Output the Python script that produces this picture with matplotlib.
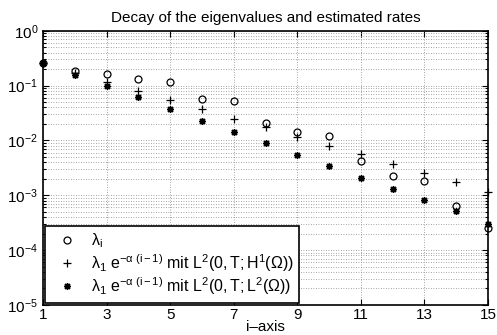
import matplotlib
matplotlib.use("Agg")
import matplotlib.pyplot as plt
from matplotlib.ticker import LogLocator, FixedLocator, NullFormatter

plt.rcParams['font.family'] = ['Liberation Sans', 'DejaVu Sans']
plt.rcParams['mathtext.fontset'] = 'custom'
plt.rcParams['mathtext.rm'] = 'Liberation Sans'
plt.rcParams['mathtext.it'] = 'Liberation Sans'
plt.rcParams['mathtext.bf'] = 'Liberation Sans:bold'

i_vals = list(range(1, 16))
lam = [0.257, 0.186, 0.160, 0.130, 0.117, 0.056, 0.0515, 0.021, 0.014, 0.0123,
       0.00414, 0.00226, 0.0018, 0.00065, 0.000254]
rate_H1 = [0.257, 0.171, 0.115, 0.080, 0.054, 0.0368, 0.0251, 0.0173, 0.0116, 0.00787,
           0.00555, 0.0037, 0.00259, 0.00173, 0.00115]
rate_L2 = [0.257, 0.157, 0.099, 0.061, 0.037, 0.023, 0.0144, 0.0089, 0.00546, 0.0034,
           0.00211, 0.00131, 0.00081, 0.00051, 0.000306]

labels = [r'$\lambda_{\mathrm{i}}$',
          r'$\lambda_{1}\ \mathrm{e}^{-\alpha\ (\mathrm{i}-1)}$ mit $\mathrm{L}^{2}(0,\mathrm{T};\mathrm{H}^{1}(\Omega))$',
          r'$\lambda_{1}\ \mathrm{e}^{-\alpha\ (\mathrm{i}-1)}$ mit $\mathrm{L}^{2}(0,\mathrm{T};\mathrm{L}^{2}(\Omega))$']
xticks = [1, 3, 5, 7, 9, 11, 13, 15]

fig = plt.figure(figsize=(4.97, 3.35), dpi=100)
ax = fig.add_axes([0.0865, 0.0896, 0.8955, 0.8185])

ax.plot(i_vals, lam, linestyle='none', marker='o', markerfacecolor='none',
        markeredgecolor='black', markersize=5, markeredgewidth=0.9, label=labels[0], clip_on=False)
ax.plot(i_vals, rate_H1, linestyle='none', marker='+', color='black',
        markersize=6, markeredgewidth=0.9, label=labels[1], clip_on=False)
ax.plot(i_vals, rate_L2, linestyle='none', marker=(8, 2, 0), color='black',
        markersize=5, markeredgewidth=1.0, label=labels[2], clip_on=False)

ax.set_yscale('log')
ax.set_xlim(1, 15)
ax.set_ylim(1e-5, 1e0)
ax.xaxis.set_major_locator(FixedLocator(xticks))
ax.set_xticklabels([str(t) for t in xticks])
ax.yaxis.set_major_locator(LogLocator(base=10, numticks=10))
ax.yaxis.set_minor_locator(LogLocator(base=10, subs=range(2, 10), numticks=20))
ax.yaxis.set_minor_formatter(NullFormatter())

ax.grid(True, which='major', axis='both', linestyle=(0, (1, 2)), color='#888888', linewidth=0.6)
ax.grid(True, which='minor', axis='y', linestyle=(0, (1, 2)), color='#888888', linewidth=0.6)

ax.tick_params(which='both', direction='in', top=True, right=True, labelsize=11,
               width=0.8, color='black')
ax.tick_params(which='major', length=4)
ax.tick_params(which='minor', length=2.5)
ax.tick_params(axis='x', pad=2)
for s in ax.spines.values():
    s.set_linewidth(1.2)

ax.set_title('Decay of the eigenvalues and estimated rates', fontsize=11, pad=6)
ax.set_xlabel('i\u2013axis', fontsize=11, labelpad=-1)

leg = ax.legend(loc='lower left', fontsize=11.5, frameon=True, fancybox=False,
                edgecolor='black', framealpha=1, borderaxespad=0.15,
                handlelength=2.0, handletextpad=0.5, labelspacing=0.1, borderpad=0.35)
leg.get_frame().set_linewidth(1.2)

fig.savefig('out.png', dpi=100)
